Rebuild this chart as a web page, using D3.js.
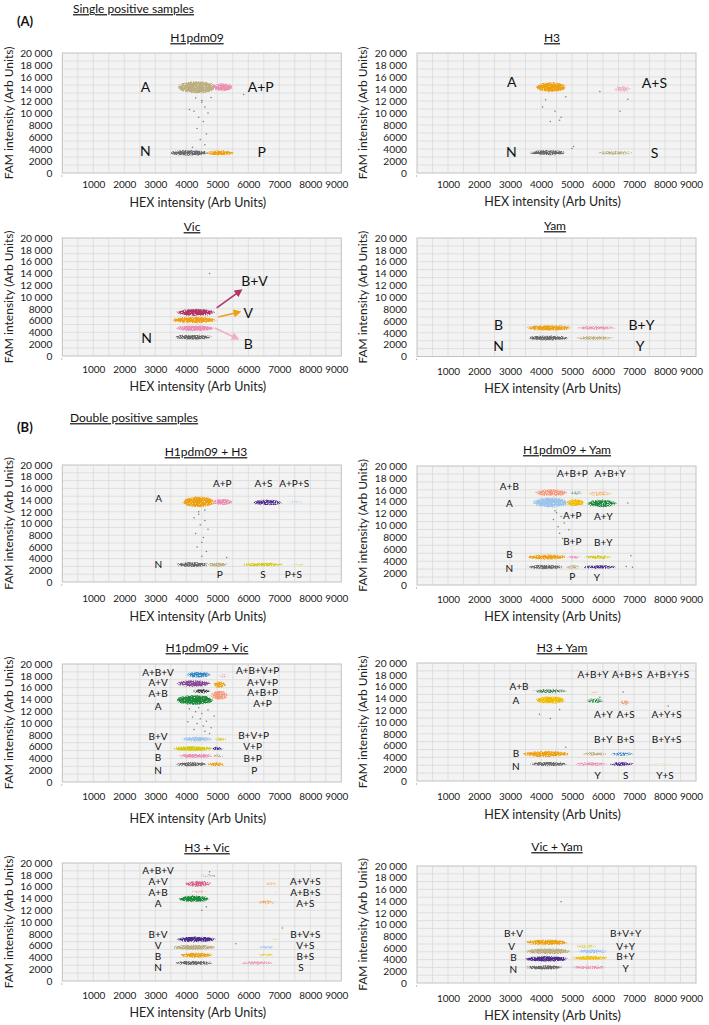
<!DOCTYPE html>
<html>
<head>
<meta charset="utf-8">
<script src="https://cdn.jsdelivr.net/npm/d3@7"></script>
<style>
body{margin:0;background:#fff;}
svg{display:block;font-family:Lato,"Open Sans",sans-serif;}
</style>
</head>
<body>
<svg id="fig" width="709" height="1025"></svg>
<script>
// ---------- data ----------
const panelNames = ['H1pdm09','H3','Vic','Yam','H1pdm09 + H3','H1pdm09 + Yam','H1pdm09 + Vic','H3 + Yam','H3 + Vic','Vic + Yam'];
const hexTicks = [1000,2000,3000,4000,5000,6000,7000,8000,9000];
const famTicks = [0,2000,4000,6000,8000,10000,12000,14000,16000,18000,20000];

// droplet clusters: [partition, HEX from, HEX to, FAM centre, FAM half spread, density]
const clustersH1 = [
  ['A',3730,4960,14300,1000,1],['A+P',4850,5500,14300,650,1],
  ['N',3460,4700,3350,450,1],['P',4640,5550,3350,380,1]
];
const clustersH3 = [
  ['A',3850,4800,14300,800,1],['A+S',6300,6950,14000,600,0.55],
  ['N',3630,4800,3380,400,1],['S',5750,7000,3380,300,0.85]
];
const clustersVic = [
  ['B+V',3690,4920,7400,550,1],['V',3530,4980,6100,500,1],
  ['B',3650,4920,4700,450,1],['N',3600,4850,3190,380,1]
];
const clustersYam = [
  ['B',3530,4980,4820,450,1],['B+Y',5100,6450,4820,320,0.8],
  ['N',3530,4920,3120,380,1],['Y',5050,6380,3120,300,0.85]
];
const clustersH1H3 = [
  ['A',3880,4910,13700,900,1],['A+P',4850,5490,13700,500,1],
  ['A+S',6130,7100,13600,500,0.8],['A+P+S',7100,7960,13700,300,0.5],
  ['N',3660,4730,2980,400,1],['P',4670,5370,2980,320,1],
  ['S',5740,7190,2980,300,0.9],['P+S',7190,8040,2980,220,0.6]
];
const clustersH1Yam = [
  ['A+B',3810,4870,15500,600,0.85],['A',3750,4870,13850,800,1],
  ['A+B+P',4870,5400,15500,400,0.6],['A+P',4820,5400,13850,550,1],
  ['A+B+Y',5470,6330,15400,500,0.55],['A+Y',5470,6440,13700,650,0.8],
  ['B',3540,4820,4700,400,1],['B+P',4820,5300,4700,320,0.8],['B+Y',5350,6330,4700,320,0.8],
  ['N',3540,4770,3030,320,1],['P',4770,5300,3030,280,0.9],['Y',5300,6480,3030,280,0.9]
];
const clustersH1Vic = [
  ['A+B+V',4000,4800,18200,500,0.85],['A+V',3680,4800,16700,550,0.9],
  ['A+B',4200,4800,15400,400,0.8],['A',3680,4860,13900,800,1],
  ['A+V+P',4860,5290,16500,600,0.8],['A+B+P',4800,5340,14700,800,0.9],
  ['A+B+V+P',5000,5400,18000,400,0.55],
  ['B+V',3840,4860,7260,400,0.9],['B+V+P',4860,5340,7260,300,0.75],
  ['V',3550,4860,5670,400,1],['V+P',4800,5200,5670,300,0.9],
  ['B',3730,4860,4420,320,1],['B+P',4800,5240,4420,280,0.8],
  ['N',3620,4700,3010,320,1],['P',4650,5240,3010,280,1]
];
const clustersH3Yam = [
  ['A+B',3700,4880,15250,400,0.65],['A',3820,4780,13730,600,1],
  ['A+B+Y',5420,5960,15030,300,0.5],['A+Y',5420,6060,13600,500,0.6],
  ['A+S',6490,6920,13270,500,0.65],
  ['B',3380,4940,4580,450,1],['B+Y',5310,6170,4580,320,0.8],
  ['B+S',6200,7010,4580,280,0.8],['B+Y+S',7680,8380,4580,220,0.4],
  ['N',3600,4890,2880,320,1],['Y',5050,6170,2880,280,0.9],
  ['S',6170,7010,2880,280,0.9],['Y+S',7360,8270,2880,220,0.55]
];
const clustersH3Vic = [
  ['A+B+V',4430,4960,17850,400,0.5],['A+V',3950,4800,16490,500,0.85],
  ['A+B',3950,4800,15180,300,0.55],['A',3730,4750,13930,500,1],
  ['A+V+S',6460,7000,16490,400,0.5],['A+B+S',6800,7050,15000,400,0.4],
  ['A+S',6250,6900,13370,400,0.65],
  ['B+V',3680,4960,7060,450,1],['V',3520,4960,5690,400,1],
  ['B',3790,4860,4380,400,1],['N',3620,4860,3070,320,1],
  ['B+V+S',6700,7050,7100,300,0.5],['V+S',6250,6900,5720,300,0.7],
  ['B+S',6250,6900,4400,280,0.7],['S',5710,6890,3070,280,0.85]
];
const clustersVicYam = [
  ['B+V',3480,4880,6960,450,1],['V',3480,4990,5420,450,1],
  ['B',3480,4880,4110,450,1],['N',3480,4720,2680,320,1],
  ['B+V+Y',5040,5850,6270,400,0.55],['V+Y',5100,6180,5420,350,0.8],
  ['B+Y',4990,6180,4280,350,0.9],['Y',4930,6180,2680,280,0.9]
];

// scattered "rain" droplets between clusters: [HEX, FAM]
const rainH1 = [[4300,12500],[4500,11800],[4600,11000],[4250,10300],[4700,10000],[4400,9300],[4550,8600],[4350,7400],[4650,6500],[4450,5600],[4600,4700],[4200,4300],[5850,13100],[4100,10600],[4800,12600],[4500,12100]];
const rainH3 = [[4150,12200],[4050,11000],[4450,10300],[4650,9300],[4300,8600],[4600,8800],[5050,4400],[5000,4100],[5900,13600],[6550,10300],[6800,12300],[4800,12700]];
const rainVic = [[4750,14000]];
const rainYam = [];
const rainH1H3 = [[4400,12000],[4250,11000],[4600,10500],[4450,9800],[4700,9000],[4300,8300],[4550,7600],[4500,6800],[4350,6000],[4650,5200],[4500,4400],[4400,11600],[4600,12300],[5300,4200]];
const rainH1Yam = [[4500,12200],[4650,11500],[4400,11000],[4750,10400],[4550,9800],[4900,9300],[4600,8700],[4700,7800],[4450,12500],[6800,13800],[6900,4900],[6950,3000],[6750,3100]];
const rainH1Vic = [[4100,12400],[4300,11900],[4500,11600],[4700,12200],[4200,11000],[4450,10700],[4650,10300],[4350,9900],[4550,9500],[4800,9200],[4250,8900],[4600,8600],[4400,12600],[4900,11200],[4050,10200],[4750,8200]];
const rainH3Yam = [[3950,11300],[4300,10600],[4600,12100],[6650,15100],[8100,12700],[4800,5700],[5900,14200]];
const rainH3Vic = [[4500,12000],[4650,12600],[5600,6300],[7100,9000],[4900,17800],[4750,18500]];
const rainVicYam = [[4650,13880]];

// partition labels: [text, HEX, FAM]
const labelsH1 = [['A',2680,14300],['A+P',6400,14300],['N',2680,3700],['P',6430,3500]];
const labelsH3 = [['A',3060,15100],['A+S',7660,15000],['N',3040,3550],['S',7660,3380]];
const labelsVic = [['B+V',6200,12700],['V',6000,7300],['B',6000,2050],['N',2720,3020]];
const labelsYam = [['B',2630,5380],['B+Y',7240,5380],['N',2630,1810],['Y',7200,1810]];
const labelsH1H3 = [['A',3110,14200],['A+P',5160,16900],['A+S',6490,16900],['A+P+S',7480,16900],['N',3100,3000],['P',5080,1300],['S',6470,1300],['P+S',7450,1300]];
const labelsH1Yam = [['A+B+P',5010,18780],['A+B+Y',6230,18780],['A+B',2980,16540],['A',2980,13680],['A+P',5010,11600],['A+Y',6010,11430],['B+P',5010,7340],['B+Y',6010,7130],['B',2980,5160],['N',2980,2810],['P',5010,1350],['Y',5800,1240]];
const labelsH1Vic = [['A+B+V',3090,18590],['A+V',3090,16890],['A+B',3090,15020],['A',3090,12860],['B+V',3090,7650],['V',3090,5950],['B',3090,4150],['N',3090,1870],
  ['A+B+V+P',6300,18980],['A+V+P',6460,16890],['A+B+P',6460,15130],['A+P',6460,13320],['B+V+P',6170,7870],['V+P',6140,6050],['B+P',6140,3980],['P',6190,1870]];
const labelsH3Yam = [['A+B',3290,15990],['A',3190,13560],['A+B+Y',5680,17970],['A+B+S',6780,17970],['A+B+Y+S',8100,17970],['A+Y',6010,11190],['A+S',6730,11190],['A+Y+S',8050,11190],
  ['B+Y',6010,6950],['B+S',6730,6950],['B+Y+S',8050,6950],['B',3190,4690],['N',3190,2540],['Y',5830,850],['S',6730,850],['Y+S',8000,850]];
const labelsH3Vic = [['A+B+V',3090,18700],['A+V',3090,16880],['A+B',3090,15000],['A',3090,13200],['B+V',3090,7910],['V',3090,5970],['B',3090,4090],['N',3090,2280],
  ['A+V+S',7840,16880],['A+B+S',7840,15000],['A+S',7840,13080],['B+V+S',7840,7910],['V+S',7840,6010],['B+S',7840,4150],['S',7700,2220]];
const labelsVicYam = [['B+V',3110,8400],['V',3050,6270],['B',3110,4280],['N',3110,2280],['B+V+Y',6730,8400],['V+Y',6730,6270],['B+Y',6730,4450],['Y',6730,2400]];

// arrows in the Vic panel: [partition, HEX from, FAM from, HEX to, FAM to]
const arrowsVic = [['B+V',4980,8150,5730,11000],['V',5030,6600,5680,7400],['B',4920,4730,5620,3020]];

// ---------- styling ----------
const palette = {grey:'#6a6a6a',tan:'#bdae80',pink:'#ec8fb5',orange:'#eea111',maroon:'#b03566',lightblue:'#9cc4ec',
  blue:'#2f86c8',green:'#1c8a3a',darkgreen:'#3c7549',salmon:'#f59a7c',yellow:'#d4c80c',gold:'#f0bd00',
  purple:'#4e2d8c',violet:'#8a4797',rose:'#d65f8b',black:'#3a3a3a',ltgrey:'#9c9c9c',ltpink:'#eeb0c4',apricot:'#f6a65a'};

const panels = [
  {clusters:clustersH1, rain:rainH1, labels:labelsH1, big:true,
   colours:{A:'tan','A+P':'pink',N:'grey',P:'orange'}},
  {clusters:clustersH3, rain:rainH3, labels:labelsH3, big:true,
   colours:{A:'orange','A+S':'pink',N:'grey',S:'tan'}},
  {clusters:clustersVic, rain:rainVic, labels:labelsVic, big:true, arrows:arrowsVic,
   colours:{'B+V':'maroon',V:'orange',B:'pink',N:'grey'}, arrowColours:{'B+V':'maroon',V:'orange',B:'ltpink'}},
  {clusters:clustersYam, rain:rainYam, labels:labelsYam, big:true,
   colours:{B:'orange','B+Y':'pink',N:'grey',Y:'tan'}},
  {clusters:clustersH1H3, rain:rainH1H3, labels:labelsH1H3,
   colours:{A:'orange','A+P':'pink','A+S':'purple','A+P+S':'lightblue',N:'grey',P:'tan',S:'yellow','P+S':'yellow'}},
  {clusters:clustersH1Yam, rain:rainH1Yam, labels:labelsH1Yam,
   colours:{'A+B':'salmon',A:'lightblue','A+B+P':'ltgrey','A+P':'gold','A+B+Y':'apricot','A+Y':'green',
            B:'orange','B+P':'pink','B+Y':'yellow',N:'grey',P:'tan',Y:'purple'}},
  {clusters:clustersH1Vic, rain:rainH1Vic, labels:labelsH1Vic,
   colours:{'A+B+V':'blue','A+V':'violet','A+B':'black',A:'green','A+V+P':'orange','A+B+P':'salmon','A+B+V+P':'pink',
            'B+V':'lightblue','B+V+P':'yellow',V:'yellow','V+P':'purple',B:'pink','B+P':'tan',N:'grey',P:'orange'}},
  {clusters:clustersH3Yam, rain:rainH3Yam, labels:labelsH3Yam,
   colours:{'A+B':'darkgreen',A:'gold','A+B+Y':'apricot','A+Y':'green','A+S':'salmon',
            B:'orange','B+Y':'tan','B+S':'blue','B+Y+S':'lightblue',N:'grey',Y:'pink',S:'purple','Y+S':'yellow'}},
  {clusters:clustersH3Vic, rain:rainH3Vic, labels:labelsH3Vic,
   colours:{'A+B+V':'ltgrey','A+V':'rose','A+B':'salmon',A:'green','A+V+S':'apricot','A+B+S':'violet','A+S':'apricot',
            'B+V':'purple',V:'tan',B:'orange',N:'grey','B+V+S':'gold','V+S':'lightblue','B+S':'yellow',S:'pink'}},
  {clusters:clustersVicYam, rain:rainVicYam, labels:labelsVicYam,
   colours:{'B+V':'orange',V:'tan',B:'purple',N:'grey','B+V+Y':'yellow','V+Y':'lightblue','B+Y':'gold',Y:'pink'}}
];

// panel placement on the page
const colX = [62.3, 417];
const plotW = 279;
const layout = [
  {col:0, top:53,  bottom:173,   titleX:197, titleY:38,  tickY:184, axisY:203},
  {col:1, top:53,  bottom:173,   titleX:552, titleY:38,  tickY:184, axisY:202},
  {col:0, top:238, bottom:356,   titleX:192, titleY:227, tickY:369, axisY:387},
  {col:1, top:238, bottom:356.5, titleX:555, titleY:226, tickY:371, axisY:389},
  {col:0, top:465, bottom:582,   titleX:206, titleY:452, tickY:598, axisY:617},
  {col:1, top:466, bottom:585,   titleX:567, titleY:450, tickY:599, axisY:617},
  {col:0, top:664, bottom:782,   titleX:207, titleY:648, tickY:796, axisY:819},
  {col:1, top:663, bottom:781,   titleX:562, titleY:648, tickY:796, axisY:815},
  {col:0, top:863, bottom:981,   titleX:207, titleY:848, tickY:995, axisY:1013},
  {col:1, top:866, bottom:983,   titleX:557, titleY:847, tickY:998, axisY:1016}
];

const svg = d3.select('#fig');
const defs = svg.append('defs');

// speckled droplet texture: blurred cluster shape multiplied by fine noise, then thresholded
const f = defs.append('filter').attr('id','drops')
  .attr('x','-30%').attr('y','-150%').attr('width','160%').attr('height','400%')
  .attr('color-interpolation-filters','sRGB');
f.append('feGaussianBlur').attr('in','SourceGraphic').attr('stdDeviation','2.4 1').attr('result','b');
f.append('feTurbulence').attr('type','fractalNoise').attr('baseFrequency','0.9').attr('numOctaves',2).attr('seed',5).attr('result','t');
f.append('feColorMatrix').attr('in','t').attr('type','matrix')
  .attr('values','0 0 0 0 1  0 0 0 0 1  0 0 0 0 1  1 0 0 0 0').attr('result','n');
f.append('feComposite').attr('in','b').attr('in2','n').attr('operator','arithmetic')
  .attr('k1',1).attr('k2',0).attr('k3',0).attr('k4',0).attr('result','m');
f.append('feComponentTransfer').attr('in','m')
  .append('feFuncA').attr('type','linear').attr('slope',5).attr('intercept',-0.85);

Object.entries(palette).forEach(([k,c]) => {
  defs.append('marker').attr('id','arr-'+k).attr('viewBox','0 0 10 10').attr('refX',6).attr('refY',5)
    .attr('markerWidth',5).attr('markerHeight',5).attr('orient','auto-start-reverse')
    .append('path').attr('d','M0,0L10,5L0,10z').attr('fill',c);
});

// section headings
function heading(letter, text, yL, yT, xT) {
  svg.append('text').attr('x',17).attr('y',yL).attr('dy','0.35em')
    .attr('font-size',13).attr('font-weight','bold').attr('fill','#111').text(letter);
  svg.append('text').attr('x',xT).attr('y',yT).attr('dy','0.35em')
    .attr('font-size',12).attr('fill','#111').style('text-decoration','underline').text(text);
}
heading('(A)','Single positive samples',21,9,73);
heading('(B)','Double positive samples',427,418,70);

const famFmt = v => v >= 10000 ? d3.format(',')(v).replace(',', ' ') : String(v);

panels.forEach((p, i) => {
  const L = layout[i];
  const x0 = colX[L.col];
  const x = d3.scaleLinear().domain([0,9000]).range([x0, x0 + plotW]);
  const y = d3.scaleLinear().domain([0,20000]).range([L.bottom, L.top]);
  const g = svg.append('g');

  // plot area and grid
  g.append('rect').attr('x',x(0)).attr('y',y(20000)).attr('width',x(9000)-x(0)).attr('height',y(0)-y(20000))
    .attr('fill','#f3f3f3');
  g.selectAll('.vg').data(d3.range(500,9000,500)).join('line')
    .attr('x1',d=>x(d)).attr('x2',d=>x(d)).attr('y1',y(0)).attr('y2',y(20000))
    .attr('stroke','#d9d9d9').attr('stroke-width',0.8);
  g.selectAll('.hg').data(d3.range(1,15).map(k=>k*20000/15)).join('line')
    .attr('x1',x(0)).attr('x2',x(9000)).attr('y1',d=>y(d)).attr('y2',d=>y(d))
    .attr('stroke','#d9d9d9').attr('stroke-width',0.8);
  g.append('rect').attr('x',x(0)).attr('y',y(20000)).attr('width',x(9000)-x(0)).attr('height',y(0)-y(20000))
    .attr('fill','none').attr('stroke','#c2c2c2').attr('stroke-width',1);

  // droplet clusters
  g.selectAll('.cl').data(p.clusters).join('ellipse')
    .attr('cx',d=>x((d[1]+d[2])/2)).attr('rx',d=>(x(d[2])-x(d[1]))/2)
    .attr('cy',d=>y(d[3])).attr('ry',d=>y(d[3]-d[4])-y(d[3]))
    .attr('fill',d=>palette[p.colours[d[0]]]).attr('fill-opacity',d=>d[5])
    .attr('filter','url(#drops)');

  // rain droplets
  g.selectAll('.rn').data(p.rain).join('circle')
    .attr('cx',d=>x(d[0])).attr('cy',d=>y(d[1])).attr('r',0.75).attr('fill','#7a7a7a');

  // arrows
  if (p.arrows) {
    g.selectAll('.ar').data(p.arrows).join('line')
      .attr('x1',d=>x(d[1])).attr('y1',d=>y(d[2])).attr('x2',d=>x(d[3])).attr('y2',d=>y(d[4]))
      .attr('stroke',d=>palette[p.arrowColours[d[0]]]).attr('stroke-width',1.6)
      .attr('marker-end',d=>'url(#arr-'+p.arrowColours[d[0]]+')');
  }

  // partition labels
  g.selectAll('.lb').data(p.labels).join('text')
    .attr('x',d=>x(d[1])).attr('y',d=>y(d[2])).attr('dy','0.35em').attr('text-anchor','middle')
    .attr('font-size',p.big ? 14 : 10).attr('fill','#111').text(d=>d[0]);

  // axes
  const ay = g.append('g').attr('transform',`translate(${x(0)},0)`)
    .call(d3.axisLeft(y).tickValues(famTicks).tickSize(0).tickPadding(10).tickFormat(famFmt));
  ay.select('.domain').remove();
  ay.selectAll('text').attr('font-size',10.2).attr('fill','#222').attr('font-family','Lato, sans-serif');

  const ax = g.append('g').attr('transform',`translate(0,${L.tickY})`)
    .call(d3.axisBottom(x).tickValues(hexTicks).tickSize(0).tickPadding(0).tickFormat(d3.format('d')));
  ax.select('.domain').remove();
  ax.selectAll('text').attr('font-size',10).attr('fill','#222').attr('dy','0.35em').attr('font-family','Lato, sans-serif');
  ax.selectAll('.tick').filter(d=>d===9000).select('text').attr('x',-5);
  g.append('circle').attr('cx',x(0)-0.5).attr('cy',L.bottom+3).attr('r',0.7).attr('fill','#aaa');

  // titles
  g.append('text').attr('x',L.titleX).attr('y',L.titleY).attr('dy','0.35em').attr('text-anchor','middle')
    .attr('font-size',12).attr('fill','#111').style('text-decoration','underline').text(panelNames[i]);
  g.append('text').attr('x',(x(0)+x(9000))/2 - 4).attr('y',L.axisY).attr('dy','0.35em').attr('text-anchor','middle')
    .attr('font-size',12.5).attr('fill','#222').text('HEX intensity (Arb Units)');
  g.append('text').attr('transform',`translate(${x0 - 54},${(L.top+L.bottom)/2}) rotate(-90)`)
    .attr('dy','0.35em').attr('text-anchor','middle').attr('font-size',12).attr('fill','#222')
    .text('FAM intensity (Arb Units)');
});
</script>
</body>
</html>
